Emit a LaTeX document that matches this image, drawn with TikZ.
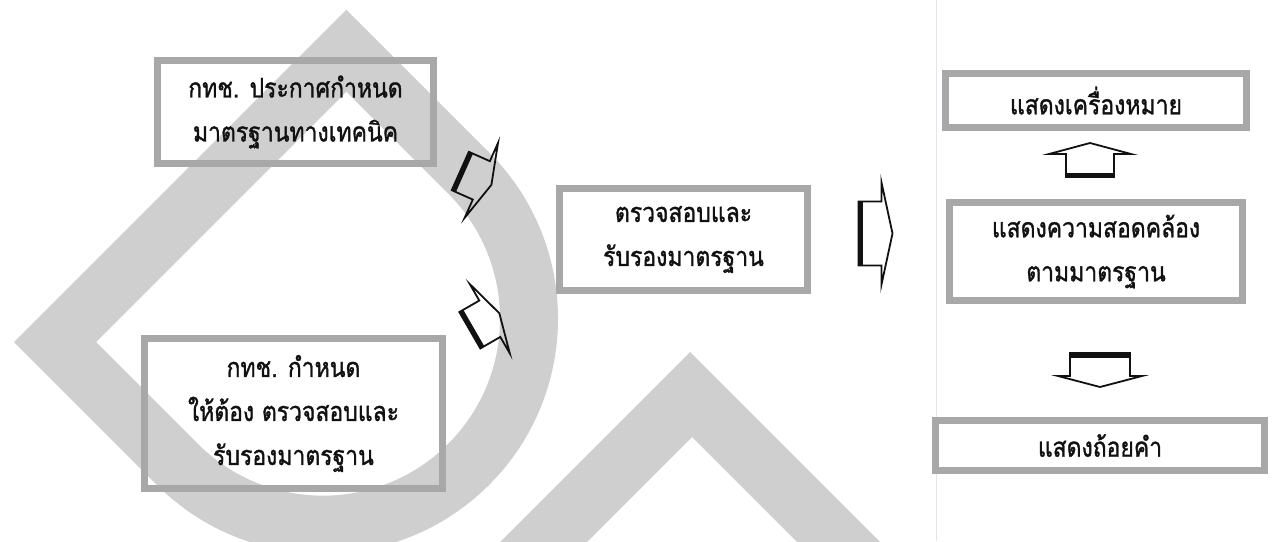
\documentclass[tikz,border=0pt]{standalone}
\usepackage{fontspec}
\newfontfamily\thaifont[Script=Thai,FakeStretch=0.85,FakeBold=1.2]{Loma}
\usepackage{xcolor}
\definecolor{cFrame}{HTML}{A8A8A8}
\definecolor{cWater}{HTML}{CFCFCF}
\definecolor{cInk}{HTML}{111111}
\definecolor{cEdge}{HTML}{E2E6EC}
\usepackage{tikz}
\usetikzlibrary{positioning,calc}
\tikzset{
  node-box/.style={draw=cFrame,line width=7pt,align=center,inner sep=0pt,
    text=cInk,font=\thaifont\fontsize{27}{44}\selectfont},
  arrow-line/.style={draw=cInk,line width=1.8pt,line join=miter},
  arrow-bar/.style={draw=cInk,line width=5pt},
  % block arrow centred on its origin, pointing along +x: #1 half shaft, #2 half head
  pics/blk-arrow/.style args={#1/#2}{code={
    \draw[arrow-line] (-17,-#1) -- (6,-#1) -- (6,-#2) -- (17,0)
      -- (6,#2) -- (6,#1) -- (-17,#1) -- cycle;
    \draw[arrow-bar] (-15,-#1) -- (-15,#1);
  }},
  watermark/.style={fill=cWater,even odd rule},
}

\begin{document}
\begin{tikzpicture}[x=1pt,y=1pt]
  \useasboundingbox (0,0) rectangle (1276,-541);
  \fill[white] (0,0) rectangle (1276,-541);
  % watermark behind the chart
  \begin{scope}
    \clip (0,0) rectangle (1276,-541);
    \begin{scope}[shift={(14,-342)},rotate=45]
      \fill[watermark] (0,0) -- (470,0) -- (470,-202)
          arc[start angle=0,end angle=-180,radius=235] -- cycle
        (58,-58) -- (412,-58) -- (412,-202)
          arc[start angle=0,end angle=-180,radius=177] -- cycle;
    \end{scope}
    \fill[watermark] (441,-601) -- (690,-352) -- (939,-601) -- (856,-601)
      -- (692,-437) -- (528,-601) -- cycle;
  \end{scope}
  \draw[cEdge,line width=1pt] (936,0) -- (936,-541);

  \node[node-box,minimum width=276pt,minimum height=103pt] (std) at (295.5,-112)
    {กทช. ประกาศกำหนด\\มาตรฐานทางเทคนิค};
  \node[node-box,minimum width=298pt,minimum height=150pt] (req) at (293.5,-413.5)
    {กทช. กำหนด\\ให้ต้อง ตรวจสอบและ\\รับรองมาตรฐาน};
  \node[node-box,minimum width=248pt,minimum height=102pt] (chk) at (683.5,-239.5)
    {ตรวจสอบและ\\รับรองมาตรฐาน};
  \node[node-box,minimum width=301pt,minimum height=54pt] (mark) at (1096,-100.5)
    {แสดงเครื่องหมาย};
  \node[node-box,minimum width=293pt,minimum height=98pt,below=68pt of mark] (conf)
    {แสดงความสอดคล้อง\\ตามมาตรฐาน};
  \node[node-box,minimum width=329pt,minimum height=50pt,below=113pt of conf,xshift=4pt] (decl)
    {แสดงถ้อยคำ};

  \pic[rotate=-24] at ($(std)!0.47!(chk)+(-2,-6)$) {blk-arrow=21/41};
  \pic[rotate=30] at ($(req)!0.49!(chk)+(0,6.5)$) {blk-arrow=21/40};
  \pic at ($(chk.east)!0.5!(conf.west)+(-3,12)$) {blk-arrow=32/51};
  \pic[rotate=90] at ($(conf.north)!0.5!(mark.south)+(-6,5)$) {blk-arrow=24/41};
  \pic[rotate=-90] at ($(conf.south)!0.5!(decl.north)+(2,-9.5)$) {blk-arrow=30/42};
\end{tikzpicture}
\end{document}
